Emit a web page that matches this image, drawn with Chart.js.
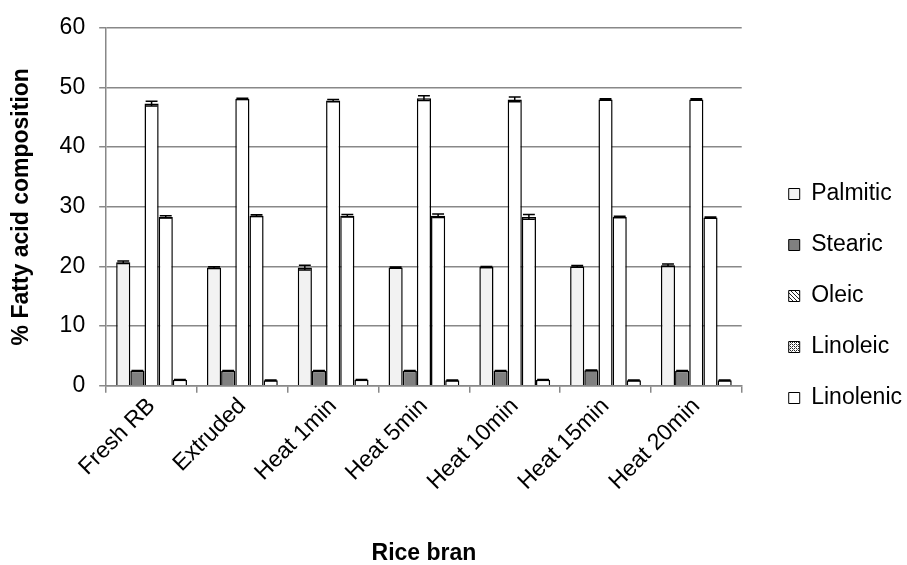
<!DOCTYPE html>
<html>
<head>
<meta charset="utf-8">
<title>Fatty acid composition</title>
<script src="https://cdn.jsdelivr.net/npm/chart.js@4.4.0/dist/chart.umd.min.js"></script>
<style>
  html, body { margin: 0; padding: 0; background: #fff; }
  #wrap { width: 907px; height: 565px; }
</style>
</head>
<body>
<div id="wrap"><canvas id="faChart" width="907" height="565"></canvas></div>
<script>
// data
var samples = ["Fresh RB", "Extruded", "Heat 1min", "Heat 5min", "Heat 10min", "Heat 15min", "Heat 20min"];
var acids = ["Palmitic", "Stearic", "Oleic", "Linoleic", "Linolenic"];
var palmitic  = [20.7, 19.8, 19.8, 19.8, 19.9, 20.0, 20.2];
var stearic   = [2.5, 2.5, 2.5, 2.5, 2.5, 2.6, 2.5];
var oleic     = [47.3, 48.1, 47.8, 48.2, 48.0, 48.0, 48.0];
var linoleic  = [28.3, 28.5, 28.5, 28.5, 28.3, 28.3, 28.2];
var linolenic = [1.0, 0.9, 1.0, 0.9, 1.0, 0.9, 0.9];
// standard deviations (error bars)
var palmiticErr  = [0.2, 0.15, 0.4, 0.1, 0.1, 0.15, 0.2];
var stearicErr   = [0.05, 0.05, 0.05, 0.05, 0.05, 0.05, 0.05];
var oleicErr     = [0.4, 0.1, 0.2, 0.4, 0.4, 0.1, 0.1];
var linoleicErr  = [0.2, 0.15, 0.2, 0.3, 0.4, 0.1, 0.1];
var linolenicErr = [0.05, 0.05, 0.05, 0.05, 0.05, 0.05, 0.05];

var fontName = "'Liberation Sans', Arial, sans-serif";

// little patterns for the legend boxes
function makePattern(kind) {
  var c = document.createElement("canvas");
  c.width = 4; c.height = 4;
  var g = c.getContext("2d");
  g.fillStyle = "#fff";
  g.fillRect(0, 0, 4, 4);
  g.fillStyle = "#222";
  if (kind == "diag") {
    for (var i = 0; i < 4; i++) g.fillRect(i, i, 1, 1);
  } else {
    g.fillRect(0, 0, 1, 1); g.fillRect(2, 2, 1, 1);
    g.fillRect(2, 0, 1, 1); g.fillRect(0, 2, 1, 1);
    g.fillStyle = "#777";
    g.fillRect(1, 1, 1, 1); g.fillRect(3, 3, 1, 1);
  }
  return document.getElementById("faChart").getContext("2d").createPattern(c, "repeat");
}

var legendFills = ["#f2f2f2", "#808080", makePattern("diag"), makePattern("check"), "#ffffff"];

// draws the error bars on top of the bars
var errorBars = {
  id: "errorBars",
  afterDatasetsDraw: function(chart) {
    var ctx = chart.ctx;
    var y = chart.scales.y;
    ctx.save();
    ctx.strokeStyle = "#000";
    ctx.lineWidth = 1.5;
    chart.data.datasets.forEach(function(ds, di) {
      var meta = chart.getDatasetMeta(di);
      meta.data.forEach(function(bar, i) {
        var v = ds.data[i], e = ds.errors[i];
        var top = y.getPixelForValue(v + e);
        var bot = y.getPixelForValue(v - e);
        var half = bar.width * 0.42;
        ctx.beginPath();
        ctx.moveTo(bar.x, top); ctx.lineTo(bar.x, bot);
        ctx.moveTo(bar.x - half, top); ctx.lineTo(bar.x + half, top);
        ctx.moveTo(bar.x - half, bot); ctx.lineTo(bar.x + half, bot);
        ctx.stroke();
      });
    });
    ctx.restore();
  }
};

// push the legend a bit away from the plot, like the original
var legendShift = {
  id: "legendShift",
  afterLayout: function(chart) {
    chart.legend.left += 19;
    chart.legend.right += 19;
  }
};

function makeSet(label, values, errs, fill) {
  return {
    label: label,
    data: values,
    errors: errs,
    backgroundColor: fill,
    borderColor: "#000",
    borderWidth: 1.5,
    borderSkipped: "bottom",
    barPercentage: 1.0,
    categoryPercentage: 0.78
  };
}

var timeChart = new Chart("faChart", {
  type: "bar",
  data: {
    labels: samples,
    datasets: [
      makeSet(acids[0], palmitic, palmiticErr, "#f2f2f2"),
      makeSet(acids[1], stearic, stearicErr, "#808080"),
      makeSet(acids[2], oleic, oleicErr, "#ffffff"),
      makeSet(acids[3], linoleic, linoleicErr, "#ffffff"),
      makeSet(acids[4], linolenic, linolenicErr, "#ffffff")
    ]
  },
  plugins: [errorBars, legendShift],
  options: {
    responsive: false,
    animation: false,
    layout: { padding: { top: 25, right: 14, bottom: -2, left: 8 } },
    plugins: {
      tooltip: { enabled: false },
      legend: {
        position: "right",
        labels: {
          boxWidth: 11,
          boxHeight: 11,
          padding: 28,
          color: "#000",
          font: { family: fontName, size: 23 },
          generateLabels: function(chart) {
            var items = Chart.defaults.plugins.legend.labels.generateLabels(chart);
            items.forEach(function(it, i) {
              it.fillStyle = legendFills[i];
              it.strokeStyle = "#000";
              it.lineWidth = 1;
            });
            return items;
          }
        }
      }
    },
    scales: {
      x: {
        grid: { drawOnChartArea: false, drawTicks: true, tickLength: 7, color: "#888", lineWidth: 1.5 },
        border: { color: "#888", width: 1.5 },
        ticks: {
          color: "#000",
          font: { family: fontName, size: 23 },
          minRotation: 45,
          maxRotation: 45,
          padding: 0
        },
        title: {
          display: true,
          text: "Rice bran",
          color: "#000",
          font: { family: fontName, size: 23, weight: "bold" },
          padding: { top: 44, bottom: 0 }
        }
      },
      y: {
        min: 0,
        max: 60,
        ticks: {
          stepSize: 10,
          color: "#000",
          font: { family: fontName, size: 23 },
          padding: 14
        },
        grid: { color: "#888", lineWidth: 1.5, tickLength: 7 },
        border: { color: "#888", width: 1.5 },
        title: {
          display: true,
          text: "% Fatty acid composition",
          color: "#000",
          font: { family: fontName, size: 23, weight: "bold" },
          padding: { top: 0, bottom: 10 }
        }
      }
    }
  }
});
</script>
</body>
</html>
